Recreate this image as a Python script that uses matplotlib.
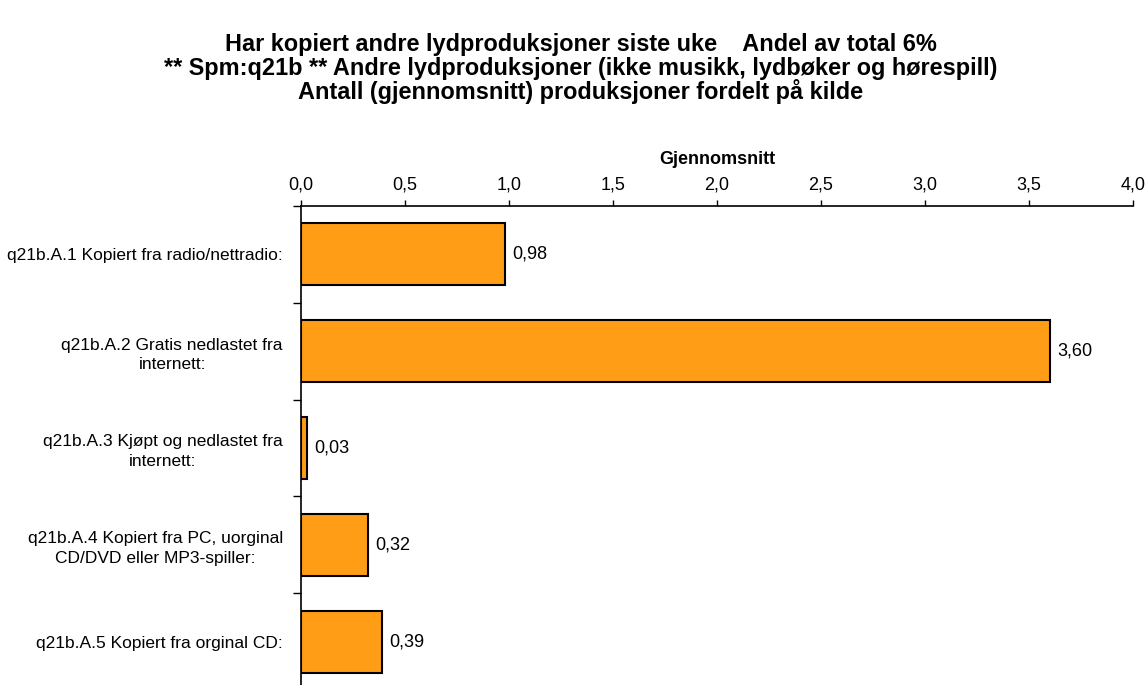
import matplotlib.pyplot as plt

plt.rcParams['font.family'] = ['Liberation Sans', 'DejaVu Sans']

categories = [
    "q21b.A.1 Kopiert fra radio/nettradio:",
    "q21b.A.2 Gratis nedlastet fra\ninternett:",
    "q21b.A.3 Kjøpt og nedlastet fra\ninternett:",
    "q21b.A.4 Kopiert fra PC, uorginal\nCD/DVD eller MP3-spiller:",
    "q21b.A.5 Kopiert fra orginal CD:",
]
values = [0.98, 3.60, 0.03, 0.32, 0.39]
value_labels = ["0,98", "3,60", "0,03", "0,32", "0,39"]
xticks = [0.0, 0.5, 1.0, 1.5, 2.0, 2.5, 3.0, 3.5, 4.0]
xtick_labels = ["0,0", "0,5", "1,0", "1,5", "2,0", "2,5", "3,0", "3,5", "4,0"]

title_lines = [
    "Har kopiert andre lydproduksjoner siste uke    Andel av total 6%",
    "** Spm:q21b ** Andre lydproduksjoner (ikke musikk, lydbøker og hørespill)",
    "Antall (gjennomsnitt) produksjoner fordelt på kilde",
]

fig = plt.figure(figsize=(11.46, 6.85), dpi=100)
ax = fig.add_axes([0.2627, -0.0073, 0.9887 - 0.2627, 0.6993 + 0.0073])

pos = list(range(len(categories)))
ax.barh(pos, values, height=0.64, color='#FF9E16', edgecolor='black', linewidth=1.5)

for p, v, lab in zip(pos, values, value_labels):
    ax.text(v + 0.035, p, lab, va='center', ha='left', fontsize=13)

ax.set_xlim(0, 4.0)
ax.set_ylim(len(categories) - 0.5, -0.5)

ax.xaxis.set_ticks_position('top')
ax.xaxis.set_label_position('top')
ax.set_xticks(xticks)
ax.set_xticklabels(xtick_labels, fontsize=13)
ax.tick_params(axis='x', direction='out', length=4, width=1, pad=5)
ax.set_xlabel("Gjennomsnitt", fontsize=13, fontweight='bold', labelpad=9)

# boundary ticks between categories, labels on minor ticks
ax.set_yticks([p - 0.5 for p in pos] + [len(pos) - 0.5])
ax.set_yticklabels([])
ax.tick_params(axis='y', which='major', direction='out', length=6, width=1)
ax.set_yticks(pos, minor=True)
ax.set_yticklabels(categories, minor=True, fontsize=12.5)
ax.tick_params(axis='y', which='minor', length=0, pad=13)
for t in ax.get_yticklabels(minor=True):
    t.set_multialignment('center')
    t.set_linespacing(1.4)

for s in ['right', 'bottom']:
    ax.spines[s].set_visible(False)
ax.spines['top'].set_linewidth(1.2)
ax.spines['left'].set_linewidth(1.2)

for i, line in enumerate(title_lines):
    fig.text(0.507, 1 - (45 + i * 23) / 685, line, ha='center', va='center',
             fontsize=16.9, fontweight='bold')

fig.savefig('out.png', dpi=100)
